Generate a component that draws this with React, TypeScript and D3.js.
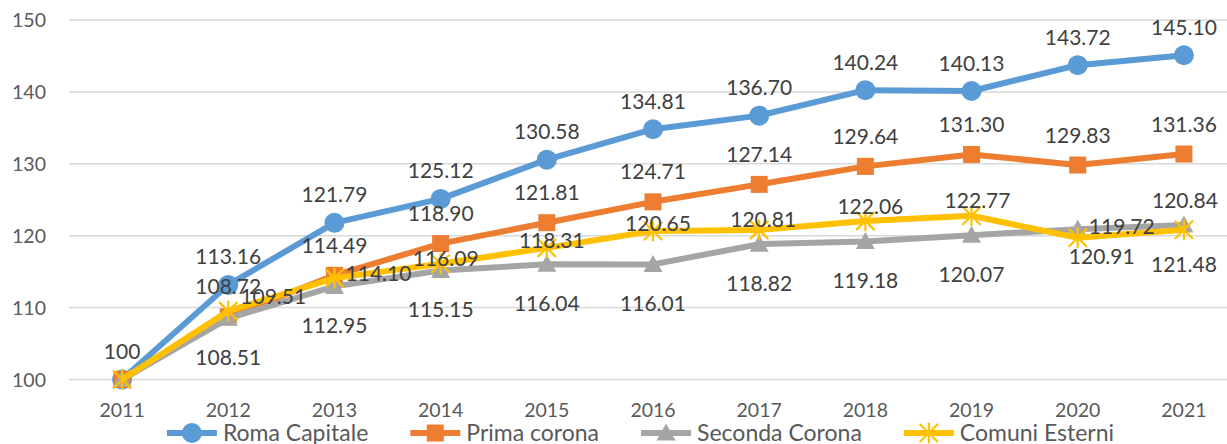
import React from 'react';
import * as d3 from 'd3';

const years = ['2011', '2012', '2013', '2014', '2015', '2016', '2017', '2018', '2019', '2020', '2021'];
const romaCapitale = [100, 113.16, 121.79, 125.12, 130.58, 134.81, 136.7, 140.24, 140.13, 143.72, 145.1];
const primaCorona = [100, 108.72, 114.49, 118.9, 121.81, 124.71, 127.14, 129.64, 131.3, 129.83, 131.36];
const secondaCorona = [100, 108.51, 112.95, 115.15, 116.04, 116.01, 118.82, 119.18, 120.07, 120.91, 121.48];
const comuniEsterni = [100, 109.51, 114.1, 116.09, 118.31, 120.65, 120.81, 122.06, 122.77, 119.72, 120.84];
const seriesNames = ['Roma Capitale', 'Prima corona', 'Seconda Corona', 'Comuni Esterni'];
const yTicks = [100, 110, 120, 130, 140, 150];

// label placement (layout only)
const romaOffsets = years.map(() => [0, -28]);
const primaOffsets = years.map(() => [0, -30]);
const secondaOffsets = years.map((_, i) => (i === 9 ? [24, 27] : [0, 39]));
const comuniOffsets = [[0, 0], [45, -15], [44, -5], [5, -5], [5, -7.5], [5, -8], [4, -10], [5, -14], [6, -15], [44, -11], [1, -29]];

const W = 1227;
const H = 444;
const FONT = 'Lato, "Open Sans", sans-serif';
const TEXT = '#404040';
const TICK = '#595959';

type Marker = 'circle' | 'square' | 'triangle' | 'star';

const series = [
  { name: seriesNames[0], values: romaCapitale, color: '#5B9BD5', marker: 'circle' as Marker, offsets: romaOffsets, firstLabel: true },
  { name: seriesNames[1], values: primaCorona, color: '#ED7D31', marker: 'square' as Marker, offsets: primaOffsets, firstLabel: false },
  { name: seriesNames[2], values: secondaCorona, color: '#A5A5A5', marker: 'triangle' as Marker, offsets: secondaOffsets, firstLabel: false },
  { name: seriesNames[3], values: comuniEsterni, color: '#FFC000', marker: 'star' as Marker, offsets: comuniOffsets, firstLabel: false },
];

function MarkerShape({ type, cx, cy, color }: { type: Marker; cx: number; cy: number; color: string }) {
  if (type === 'circle') return <circle cx={cx} cy={cy} r={10} fill={color} />;
  if (type === 'square') return <rect x={cx - 8.5} y={cy - 8.5} width={17} height={17} fill={color} />;
  if (type === 'triangle')
    return <path d={`M${cx},${cy - 9.5} L${cx + 9.5},${cy + 7.5} L${cx - 9.5},${cy + 7.5} Z`} fill={color} />;
  const s = 8.5;
  return (
    <g stroke={color} strokeWidth={2.2} strokeLinecap="round">
      <line x1={cx - s} y1={cy - s} x2={cx + s} y2={cy + s} />
      <line x1={cx - s} y1={cy + s} x2={cx + s} y2={cy - s} />
      <line x1={cx} y1={cy - s - 1} x2={cx} y2={cy + s + 1} />
    </g>
  );
}

function measure(text: string, size: number) {
  const c = document.createElement('canvas').getContext('2d');
  if (!c) return text.length * size * 0.5;
  c.font = `${size}px Lato`;
  return c.measureText(text).width;
}

export default function App() {
  const x = d3.scaleBand<string>().domain(years).range([69, 1237]).padding(0);
  const cx = (yr: string) => (x(yr) as number) + x.bandwidth() / 2;
  const y = d3.scaleLinear().domain([100, 150]).range([379.5, 20]);
  const line = d3
    .line<number>()
    .x((_, i) => cx(years[i]))
    .y((d) => y(d));

  const labelSize = 21;
  const tickSize = 19.5;
  const legendSize = 23;

  // legend layout
  const lineLen = 50;
  const gapText = 6;
  const gapItem = 42;
  const widths = series.map((s) => lineLen + gapText + measure(s.name, legendSize));
  const total = d3.sum(widths) + gapItem * (series.length - 1);
  let lx = 640.5 - total / 2;
  const legendItems = series.map((s, i) => {
    const item = { s, x: lx };
    lx += widths[i] + gapItem;
    return item;
  });
  const legendY = 433;

  return (
    <svg width={W} height={H} style={{ position: 'absolute', left: 0, top: 0, background: '#fff' }} fontFamily={FONT}>
      <rect width={W} height={H} fill="#fff" />
      {yTicks.map((t) => (
        <g key={t}>
          <line x1={69} x2={1237} y1={y(t)} y2={y(t)} stroke="#D9D9D9" strokeWidth={1.5} />
          <text x={46} y={y(t) + tickSize * 0.36} textAnchor="end" fontSize={tickSize} fill={TICK}>
            {t}
          </text>
        </g>
      ))}
      {years.map((yr) => (
        <text key={yr} x={cx(yr)} y={410 + tickSize * 0.36} textAnchor="middle" fontSize={tickSize} fill={TICK}>
          {yr}
        </text>
      ))}
      {series.map((s) => (
        <g key={s.name}>
          <path d={line(s.values) || ''} fill="none" stroke={s.color} strokeWidth={6} strokeLinejoin="round" />
          {s.values.map((v, i) => (
            <MarkerShape key={i} type={s.marker} cx={cx(years[i])} cy={y(v)} color={s.color} />
          ))}
        </g>
      ))}
      {series.map((s) =>
        s.values.map((v, i) => {
          if (i === 0 && !s.firstLabel) return null;
          const [dx, dy] = s.offsets[i];
          return (
            <text
              key={s.name + i}
              x={cx(years[i]) + dx}
              y={y(v) + dy + labelSize * 0.36}
              textAnchor="middle"
              fontSize={labelSize}
              fill={TEXT}
            >
              {i === 0 ? String(v) : v.toFixed(2)}
            </text>
          );
        })
      )}
      {legendItems.map(({ s, x: ix }) => (
        <g key={s.name}>
          <line x1={ix} x2={ix + lineLen} y1={legendY} y2={legendY} stroke={s.color} strokeWidth={6} />
          <MarkerShape type={s.marker} cx={ix + lineLen / 2} cy={legendY} color={s.color} />
          <text x={ix + lineLen + gapText} y={legendY + legendSize * 0.36} fontSize={legendSize} fill={TICK}>
            {s.name}
          </text>
        </g>
      ))}
    </svg>
  );
}
